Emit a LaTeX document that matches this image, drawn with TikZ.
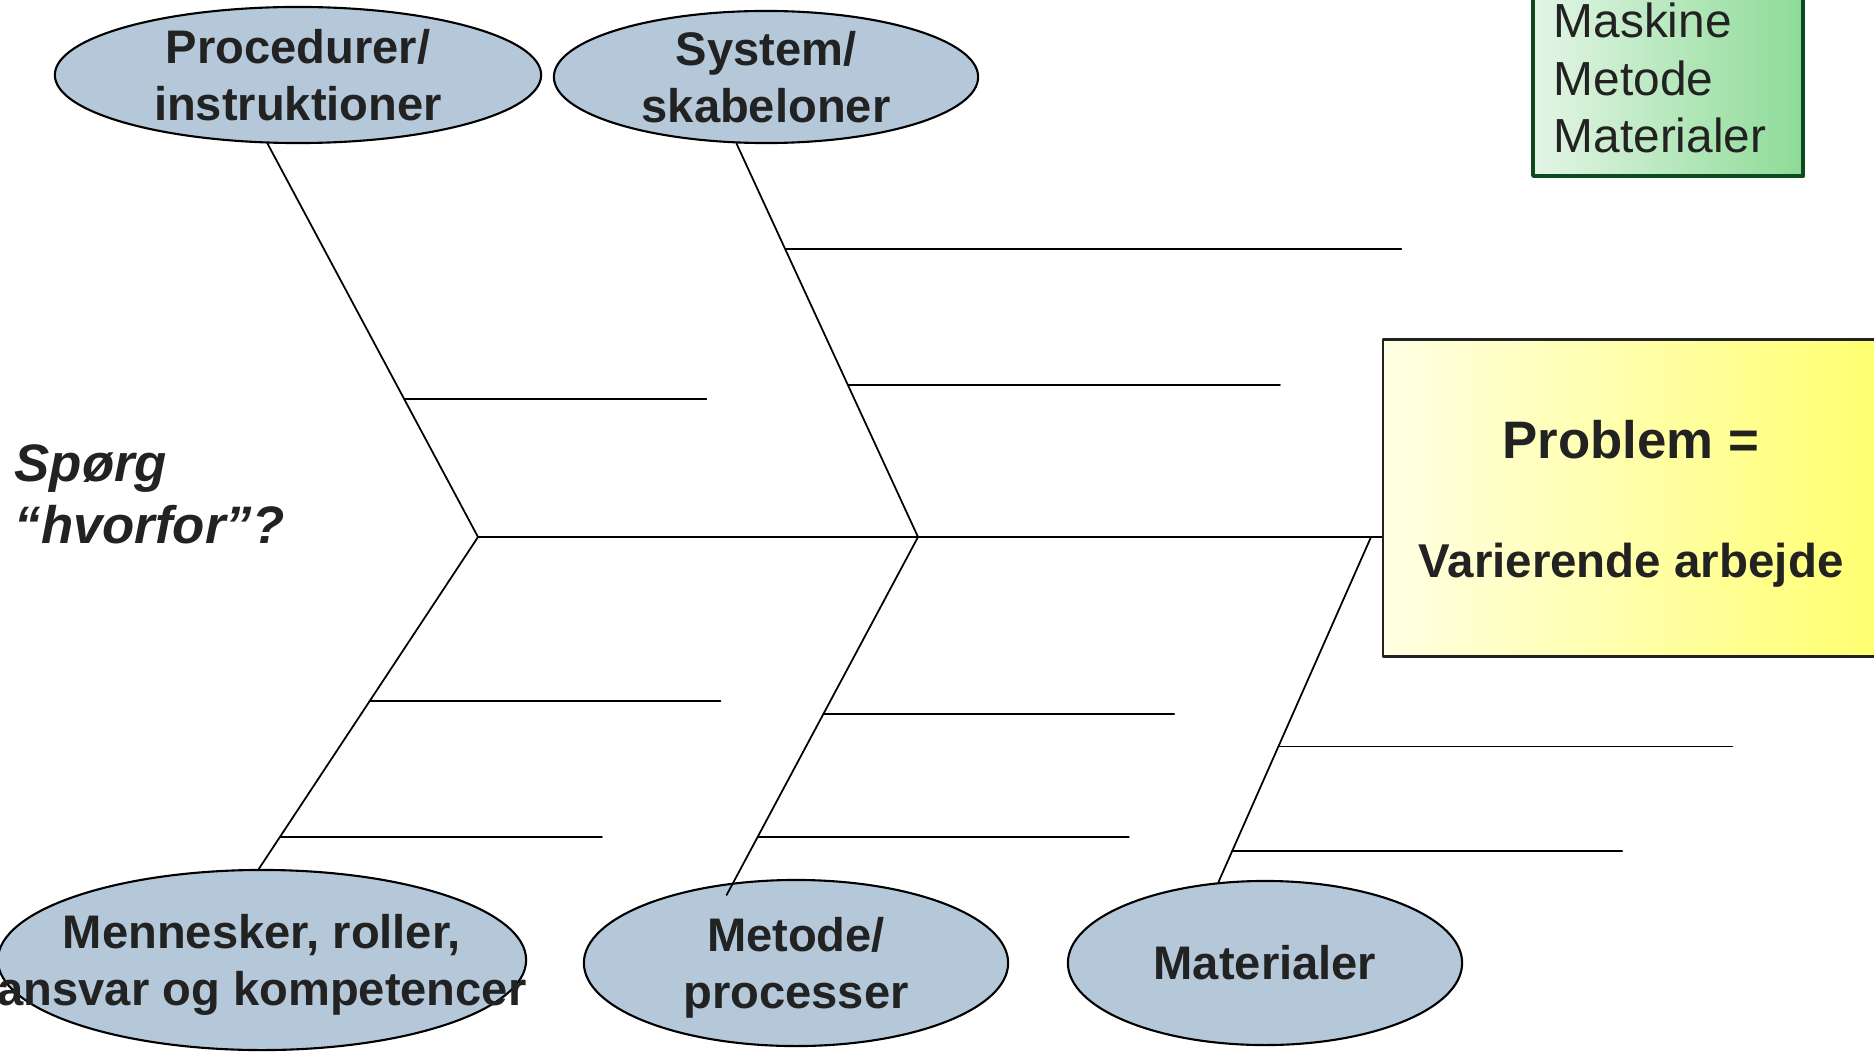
\documentclass[tikz,border=0pt]{standalone}
\usepackage{fontspec}
\setmainfont{Liberation Sans}
\usetikzlibrary{calc}
\usetikzlibrary{shapes.geometric}

\definecolor{bubble}{HTML}{B4C8D9}
\definecolor{ink}{HTML}{222222}
\definecolor{probleft}{HTML}{FFFFE3}
\definecolor{probright}{HTML}{FFFF70}
\definecolor{legleft}{HTML}{E4F5E6}
\definecolor{legright}{HTML}{8DDB97}
\definecolor{legedge}{HTML}{0E4A20}

\tikzset{
  cause/.style={ellipse, draw, line width=0.6pt, fill=bubble},
  causetext/.style={align=center, text=ink, inner sep=0pt, yshift=-1.6pt,
    font=\fontsize{13.4}{16}\selectfont\bfseries},
  bone/.style={line width=0.5pt},
  probbox/.style={draw=ink, line width=0.7pt, left color=probleft, right color=probright,
    align=center, text=ink, font=\fontsize{13.5}{16}\selectfont\bfseries},
  legbox/.style={draw=legedge, line width=1.2pt, left color=legleft, right color=legright},
  legtext/.style={align=left, inner sep=0pt, text=ink, font=\fontsize{13.6}{16.4}\selectfont},
  asktext/.style={align=left, inner sep=0pt, text=ink,
    font=\fontsize{15}{17.6}\selectfont\bfseries\itshape},
}

\begin{document}
\begin{tikzpicture}[x=0.01cm,y=-0.01cm,line cap=round,line join=round]
        \useasboundingbox (0,0) rectangle (1874,1052);
        \clip (0,0) rectangle (1874,1052);

        % causes
        \node[cause, minimum width=4.86cm, minimum height=1.36cm,
          label={[causetext]center:\strut Procedurer/\\\strut instruktioner}] (proc) at (298,75) {};
        \node[cause, minimum width=4.24cm, minimum height=1.32cm,
          label={[causetext]center:\strut System/\\\strut skabeloner}] (sys) at (766,77) {};
        \node[cause, minimum width=5.28cm, minimum height=1.80cm,
          label={[causetext]center:\strut Mennesker, roller,\\\strut ansvar og kompetencer}] (menn) at (262,960) {};
        \node[cause, minimum width=4.24cm, minimum height=1.66cm,
          label={[causetext]center:\strut Metode/\\\strut processer}] (metode) at (796,963) {};
        \node[cause, minimum width=3.94cm, minimum height=1.64cm,
          label={[causetext]center:\strut Materialer}] (mat) at (1265,963) {};

        % effect
        \node[probbox, minimum width=4.96cm, minimum height=3.17cm] (prob) at (1631,498)
          {{\fontsize{15}{18}\selectfont\rule{0pt}{14.3pt}Problem =}\\[17.8pt]Varierende arbejde};

        % legend
        \node[legbox, anchor=south west, minimum width=2.70cm, minimum height=2.2cm] (legend) at (1531,178) {};
        \node[legtext, anchor=north west] (legitems) at (1553,2) {Maskine\\Metode\\Materialer};

        \node[asktext, anchor=north west] (ask) at (14,444) {Spørg\\“hvorfor”?};

        % spine and bones
        \coordinate (j1) at (478,537);
        \coordinate (j2) at (918,537);
        \coordinate (j3) at (1371,537);

        \draw[bone] (j1) -- (j1 -| prob.west);
        \draw[bone] (j1) -- (proc.246);
        \draw[bone] (j2) -- (sys.246);
        \draw[bone] (j1) -- (menn.92);
        \draw[bone, shorten >=-0.14cm] (j2) -- (metode.128);
        \draw[bone] (j3) -- (mat.120);

        \foreach \src/\dst/\pos/\len in {j1/proc.246/0.35/302, j2/sys.246/0.731/616,
            j2/sys.246/0.386/432, j1/menn.92/0.495/351, j1/menn.92/0.904/322,
            j2/metode.128/0.513/351, j2/metode.128/0.867/371,
            j3/mat.120/0.607/454, j3/mat.120/0.91/390}
          \draw[bone] ($(\src)!\pos!(\dst)$) -- ++(\len,0);
\end{tikzpicture}
\end{document}
